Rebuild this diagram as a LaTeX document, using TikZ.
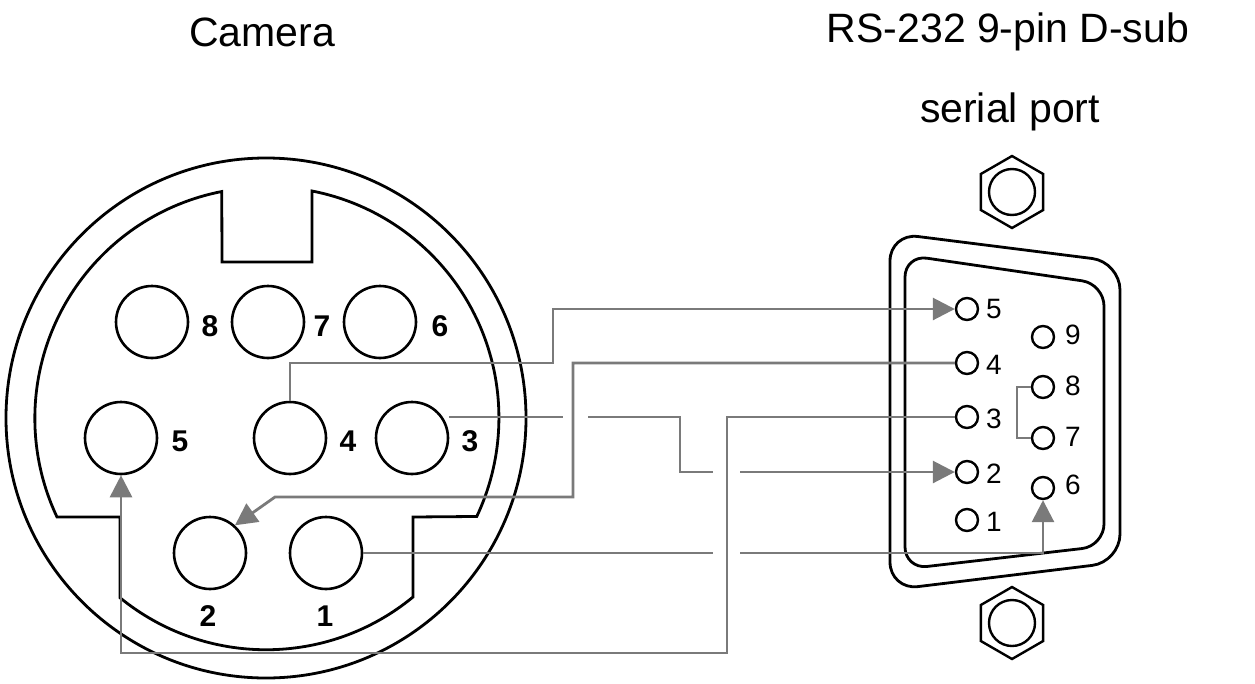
\documentclass[tikz,border=0pt]{standalone}
\usepackage{fontspec}
\setmainfont{Liberation Sans}
\usetikzlibrary{arrows.meta}
\definecolor{wire}{HTML}{7A7A7A}
\begin{document}
\begin{tikzpicture}[x=1pt,y=-1pt,
  cpin/.style={draw,line width=2.6pt,circle,minimum size=72pt,inner sep=0pt},
  dpin/.style={draw,line width=2.4pt,circle,minimum size=22pt,inner sep=0pt},
  clab/.style={font=\fontsize{30}{30}\selectfont\bfseries,inner sep=0pt},
  dlab/.style={font=\fontsize{28}{28}\selectfont,inner sep=0pt},
  ttl/.style={font=\fontsize{41}{41}\selectfont,inner sep=0pt},
  wr/.style={draw=wire,line width=2.8pt},
  arr/.style={wr,-{Triangle[length=22pt,width=22pt]}},
  blk/.style={line width=2.8pt}]
\useasboundingbox (0,0) rectangle (1255,683);
% titles
\node[ttl] (t1) at (262,32) {Camera};
\node[ttl] (t2) at (1008,32) {RS-232 9-pin D-sub};
\node[ttl] (t3) at (1010,112) {serial port};
% camera connector
\draw[blk] (266,418) circle[radius=260];
\draw[blk] (312,191) arc[start angle=-79,end angle=25.3,radius=231] -- (413,517) -- (413,597)
  arc[start angle=50.5,end angle=129.2,radius=231] -- (120,517) -- (57,517)
  arc[start angle=154.7,end angle=259,radius=231] -- (222,262) -- (312,262) -- cycle;
\node[cpin] (c8) at (152,322) {};
\node[cpin] (c7) at (268,322) {};
\node[cpin] (c6) at (380,322) {};
\node[cpin] (c5) at (121,438) {};
\node[cpin] (c4) at (290,438) {};
\node[cpin] (c3) at (412,438) {};
\node[cpin] (c2) at (210,553) {};
\node[cpin] (c1) at (326,553) {};
\node[clab] (l8) at (210,326) {8};
\node[clab] (l7) at (322,326) {7};
\node[clab] (l6) at (440,326) {6};
\node[clab] (l5) at (180,441) {5};
\node[clab] (l4) at (348,441) {4};
\node[clab] (l3) at (470,441) {3};
\node[clab] (l2) at (208,616) {2};
\node[clab] (l1) at (325,616) {1};
% D-sub shell
\draw[blk,rounded corners=28pt] (890,233) -- (1120,262) -- (1120,562) -- (890,590) -- cycle;
\draw[blk,rounded corners=22pt] (905,255) -- (1104,284) -- (1104,546) -- (905,569) -- cycle;
% nuts
\draw[line width=2.4pt] (1012,192) +(90:36) -- +(150:36) -- +(210:36) -- +(270:36) -- +(330:36) -- +(30:36) -- cycle;
\draw[line width=2.4pt] (1012,192) circle[radius=23];
\draw[line width=2.4pt] (1012,623) +(90:36) -- +(150:36) -- +(210:36) -- +(270:36) -- +(330:36) -- +(30:36) -- cycle;
\draw[line width=2.4pt] (1012,623) circle[radius=23];
% D-sub pins
\node[dpin] (d5) at (967,309) {};
\node[dpin] (d4) at (967,363) {};
\node[dpin] (d3) at (967,417) {};
\node[dpin] (d2) at (967,472) {};
\node[dpin] (d1) at (967,520) {};
\node[dpin] (d9) at (1043,337) {};
\node[dpin] (d8) at (1043,387) {};
\node[dpin] (d7) at (1043,438) {};
\node[dpin] (d6) at (1043,488) {};
\node[dlab] (m5) at (994,309) {5};
\node[dlab] (m4) at (994,365) {4};
\node[dlab] (m3) at (994,419) {3};
\node[dlab] (m2) at (994,474) {2};
\node[dlab] (m1) at (994,522) {1};
\node[dlab] (m9) at (1073,335) {9};
\node[dlab] (m8) at (1073,386) {8};
\node[dlab] (m7) at (1073,437) {7};
\node[dlab] (m6) at (1073,485) {6};
% bridge 8-7
\draw[wr,line width=2pt] (d8.west) -- (1017,387) -- (1017,438) -- (d7.west);
% wires
\draw[arr] (c4.north) |- (553,363) |- (d5.west);
\coordinate (b1) at (275,497);
\draw[arr] (d4.west) -| (573,497) -- (b1) -- (c2.48);
\draw[wr] (c3.east |- 0,417) -- (563,417);
\coordinate (g1) at (588,417);
\coordinate (g2) at (740,472);
\draw[wr] (g1) -| (680,472) -- (713,472);
\draw[arr] (g2) -- (d2.west);
\draw[arr] (d3.west) -| (727,653) -| (c5.south);
\draw[wr] (c1.east) -- (713,553);
\coordinate (g3) at (740,553);
\draw[arr] (g3) -| (d6.south);
\end{tikzpicture}
\end{document}
